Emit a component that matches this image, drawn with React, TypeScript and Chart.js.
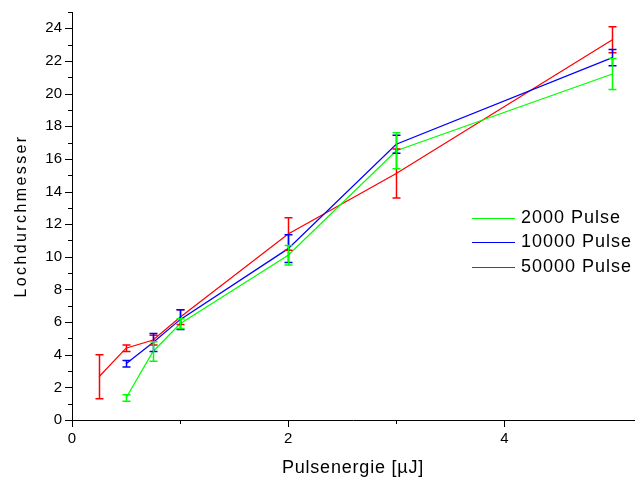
import React, { useEffect, useRef } from 'react';
import { Chart, registerables } from 'chart.js';

Chart.register(...registerables);

const FONT = '"Liberation Sans", Arial, sans-serif';

const xTitle = 'Pulsenergie [µJ]';
const yTitle = 'Lochdurchmesser';

const seriesNames = ['2000 Pulse', '10000 Pulse', '50000 Pulse'];
const seriesColors = ['#00ff00', '#0000ff', '#ff0000'];

const x2000 = [0.5, 0.75, 1, 2, 3, 5];
const y2000 = [1.35, 4.2, 5.9, 10.1, 16.5, 21.2];
const e2000 = [0.2, 0.6, 0.3, 0.6, 1.1, 0.95];

const x10000 = [0.5, 0.75, 1, 2, 3, 5];
const y10000 = [3.45, 4.75, 6.15, 10.5, 16.9, 22.2];
const e10000 = [0.2, 0.55, 0.6, 0.85, 0.55, 0.5];

const x50000 = [0.25, 0.5, 0.75, 1, 2, 3, 5];
const y50000 = [2.65, 4.4, 4.9, 6.3, 11.4, 15.1, 23.3];
const e50000 = [1.35, 0.2, 0.3, 0.45, 1.0, 1.5, 0.8];

const xMin = 0;
const xMax = 5.2;
const yMin = 0;
const yMax = 25;
const tickStep = 1;
const labelEvery = 2;

const seriesX = [x2000, x10000, x50000];
const seriesY = [y2000, y10000, y50000];
const seriesE = [e2000, e10000, e50000];

const errorBarPlugin = {
  id: 'errorBars',
  afterDatasetsDraw(chart: any) {
    const { ctx, scales } = chart;
    const xs = scales.x;
    const ys = scales.y;
    ctx.save();
    for (let i = seriesX.length - 1; i >= 0; i--) {
      ctx.strokeStyle = seriesColors[i];
      ctx.lineWidth = 1.5;
      seriesX[i].forEach((xv, j) => {
        const yv = seriesY[i][j];
        const e = seriesE[i][j];
        const px = Math.round(xs.getPixelForValue(xv)) + 0.5;
        const pt = ys.getPixelForValue(yv + e);
        const pb = ys.getPixelForValue(yv - e);
        const cap = 4;
        ctx.beginPath();
        ctx.moveTo(px, pt);
        ctx.lineTo(px, pb);
        ctx.moveTo(px - cap, pt);
        ctx.lineTo(px + cap, pt);
        ctx.moveTo(px - cap, pb);
        ctx.lineTo(px + cap, pb);
        ctx.stroke();
      });
    }
    ctx.restore();
  },
};

const decorPlugin = {
  id: 'decor',
  afterDraw(chart: any) {
    const { ctx, scales, chartArea } = chart;
    const xs = scales.x;
    const ys = scales.y;
    ctx.save();
    ctx.strokeStyle = '#000';
    ctx.lineWidth = 1;
    // ticks
    ctx.beginPath();
    xs.ticks.forEach((t: any) => {
      if (!Number.isInteger(t.value)) return;
      const len = t.value % labelEvery === 0 ? 7 : 4;
      const px = Math.round(xs.getPixelForValue(t.value)) + 0.5;
      ctx.moveTo(px, chartArea.bottom);
      ctx.lineTo(px, chartArea.bottom + len);
    });
    ys.ticks.forEach((t: any) => {
      if (!Number.isInteger(t.value)) return;
      const len = t.value % labelEvery === 0 ? 7 : 4;
      const py = Math.round(ys.getPixelForValue(t.value)) + 0.5;
      ctx.moveTo(chartArea.left - len, py);
      ctx.lineTo(chartArea.left, py);
    });
    ctx.stroke();

    // axis titles
    ctx.fillStyle = '#000';
    ctx.textAlign = 'center';
    ctx.textBaseline = 'middle';
    (ctx as any).letterSpacing = '0.8px';
    ctx.font = '18px ' + FONT;
    ctx.fillText(xTitle, (chartArea.left + chartArea.right) / 2, 468);
    ctx.save();
    (ctx as any).letterSpacing = '2.4px';
    ctx.font = '16px ' + FONT;
    ctx.translate(22, (chartArea.top + chartArea.bottom) / 2);
    ctx.rotate(-Math.PI / 2);
    ctx.fillText(yTitle, 0, 0);
    ctx.restore();

    // legend
    const rowOffsets = [205.5, 229.5, 254.5];
    (ctx as any).letterSpacing = '1px';
    ctx.font = '18px ' + FONT;
    ctx.textAlign = 'left';
    seriesNames.forEach((name, i) => {
      const y = chartArea.top + rowOffsets[i];
      ctx.strokeStyle = seriesColors[i];
      ctx.lineWidth = 1;
      ctx.beginPath();
      ctx.moveTo(chartArea.right - 162, Math.round(y) + 0.5);
      ctx.lineTo(chartArea.right - 119, Math.round(y) + 0.5);
      ctx.stroke();
      ctx.fillStyle = '#000';
      ctx.fillText(name, chartArea.right - 113, y + 1);
    });
    ctx.restore();
  },
};

export default function App() {
  const canvasRef = useRef<HTMLCanvasElement | null>(null);

  useEffect(() => {
    if (!canvasRef.current) return;
    const datasets = seriesNames.map((name, i) => ({
      label: name,
      data: seriesX[i].map((xv, j) => ({ x: xv, y: seriesY[i][j] })),
      borderColor: seriesColors[i],
      backgroundColor: seriesColors[i],
      borderWidth: 1.25,
      pointRadius: 0,
      tension: 0,
      fill: false,
    }));
    const tickLabel = (v: any) => (Number(v) % labelEvery === 0 ? String(v) : '');
    const chart = new Chart(canvasRef.current, {
      type: 'line',
      data: { datasets },
      options: {
        animation: false,
        responsive: true,
        maintainAspectRatio: false,
        layout: { padding: { top: 5.5, right: 2.8, left: 0, bottom: 0 } },
        plugins: { legend: { display: false }, tooltip: { enabled: false } },
        scales: {
          x: {
            type: 'linear',
            min: xMin,
            max: xMax,
            ticks: {
              stepSize: tickStep,
              autoSkip: false,
              maxRotation: 0,
              callback: tickLabel,
              color: '#000',
              font: { size: 15, family: FONT },
              padding: 3,
            },
            grid: {
              display: true,
              drawOnChartArea: false,
              drawTicks: true,
              tickLength: 7,
              tickColor: 'rgba(0,0,0,0)',
            },
            border: { display: true, color: '#000', width: 1 },
            afterFit: (s: any) => {
              s.height = 64;
            },
          },
          y: {
            type: 'linear',
            min: yMin,
            max: yMax,
            ticks: {
              stepSize: tickStep,
              autoSkip: false,
              callback: tickLabel,
              color: '#000',
              font: { size: 15, family: FONT },
              padding: 3,
            },
            grid: {
              display: true,
              drawOnChartArea: false,
              drawTicks: true,
              tickLength: 7,
              tickColor: 'rgba(0,0,0,0)',
            },
            border: { display: true, color: '#000', width: 1 },
            afterFit: (s: any) => {
              s.width = 72;
            },
          },
        },
      } as any,
      plugins: [errorBarPlugin, decorPlugin],
    });
    return () => chart.destroy();
  }, []);

  return (
    <div style={{ position: 'fixed', left: 0, top: 0, width: 637, height: 484, background: '#fff' }}>
      <canvas ref={canvasRef} />
    </div>
  );
}
